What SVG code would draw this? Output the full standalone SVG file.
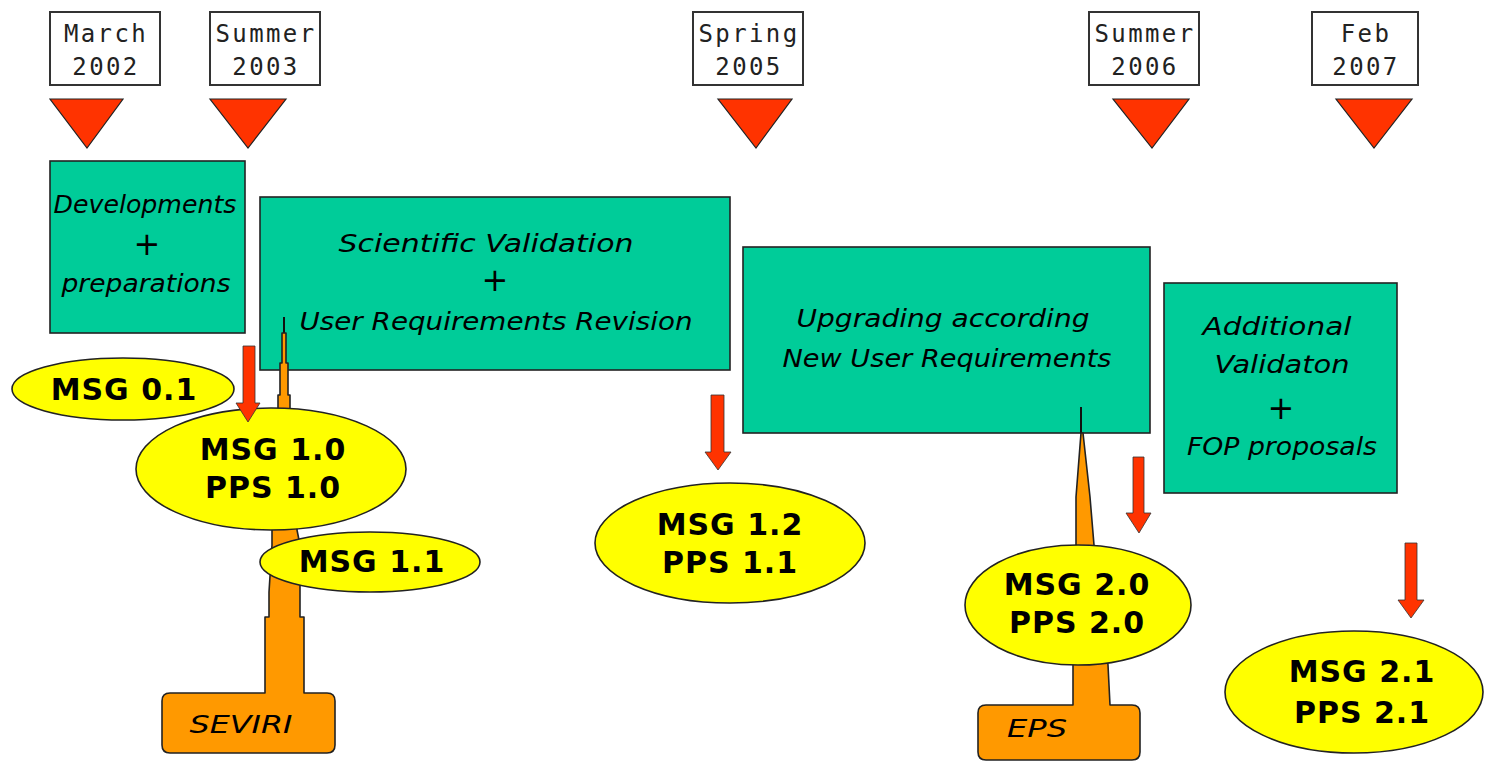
<svg xmlns="http://www.w3.org/2000/svg" width="1486" height="764" viewBox="0 0 1486 764">
<style>
  .date rect { fill: #ffffff; stroke: #333333; stroke-width: 2; }
  .date text { font-family: "DejaVu Sans Mono", "Liberation Mono", monospace; font-size: 24px; letter-spacing: 2.4px; fill: #222222; text-anchor: middle; }
  .tri { fill: #ff3300; stroke: #222222; stroke-width: 1.2; }
  .box rect { fill: #00cc99; stroke: #222222; stroke-width: 1.6; }
  .hand { font-family: "DejaVu Sans", "Noto Sans", sans-serif; font-style: italic; font-size: 24px; fill: #000000; text-anchor: middle; }
  .plus { font-family: "DejaVu Sans", sans-serif; font-size: 32px; fill: #000000; text-anchor: middle; }
  .ver ellipse { fill: #ffff00; stroke: #222222; stroke-width: 1.6; }
  .ver text { font-family: "DejaVu Sans", "Liberation Sans", sans-serif; font-weight: bold; font-size: 30px; letter-spacing: 1px; fill: #000000; text-anchor: middle; }
  .tower path { fill: #ff9900; stroke: #222222; stroke-width: 1.6; stroke-linejoin: round; }
  .tower line { stroke: #111111; stroke-width: 2; }
  .arrow { fill: #ff3300; stroke: #333333; stroke-width: 0.8; }
</style>

<!-- green phase boxes -->
<g id="box-developments" class="box">
  <rect x="50" y="161" width="195" height="172"/>
  <text class="hand" x="145" y="213" textLength="183" lengthAdjust="spacingAndGlyphs">Developments</text>
  <text class="plus" x="147" y="255">+</text>
  <text class="hand" x="146" y="292" textLength="169" lengthAdjust="spacingAndGlyphs">preparations</text>
</g>
<g id="box-scientific" class="box">
  <rect x="260" y="197" width="470" height="173"/>
  <text class="hand" x="486" y="252" textLength="295" lengthAdjust="spacingAndGlyphs">Scientific Validation</text>
  <text class="plus" x="495" y="291">+</text>
  <text class="hand" x="496" y="330" textLength="393" lengthAdjust="spacingAndGlyphs">User Requirements Revision</text>
</g>
<g id="box-upgrading" class="box">
  <rect x="743" y="247" width="407" height="186"/>
  <text class="hand" x="943" y="327" textLength="293" lengthAdjust="spacingAndGlyphs">Upgrading according</text>
  <text class="hand" x="947" y="367" textLength="329" lengthAdjust="spacingAndGlyphs">New User Requirements</text>
</g>
<g id="box-additional" class="box">
  <rect x="1164" y="283" width="233" height="210"/>
  <text class="hand" x="1277" y="335" textLength="149" lengthAdjust="spacingAndGlyphs">Additional</text>
  <text class="hand" x="1282" y="373" textLength="135" lengthAdjust="spacingAndGlyphs">Validaton</text>
  <text class="plus" x="1281" y="419">+</text>
  <text class="hand" x="1282" y="455" textLength="190" lengthAdjust="spacingAndGlyphs">FOP proposals</text>
</g>

<!-- instrument towers -->
<g id="tower-seviri" class="tower">
  <line x1="284" y1="317" x2="284" y2="334"/>
  <path d="M265,693 L170,693 Q162,693 162,701 L162,745 Q162,753 170,753 L327,753 Q335,753 335,745 L335,701 Q335,693 327,693 L304,693 L304,617 L300,617 L300,545 L297,530 L290,420 L290,395 L288,395 L288,363 L286,363 L286,333 L282,333 L282,363 L280,363 L280,395 L278,395 L278,420 L272,530 L272,545 L269,592 L269,617 L265,617 Z"/>
  <text class="hand" x="241" y="733" textLength="103" lengthAdjust="spacingAndGlyphs">SEVIRI</text>
</g>
<g id="tower-eps" class="tower">
  <line x1="1081" y1="407" x2="1081" y2="434"/>
  <path d="M1073,705 L986,705 Q978,705 978,713 L978,752 Q978,760 986,760 L1132,760 Q1140,760 1140,752 L1140,713 Q1140,705 1132,705 L1110,705 L1108,665 L1094,545 L1090,497 L1083,433 L1081,433 L1076,497 L1076,545 L1073,665 Z"/>
  <text class="hand" x="1037" y="737" textLength="60" lengthAdjust="spacingAndGlyphs">EPS</text>
</g>

<!-- version ellipses -->
<g id="v-msg01" class="ver">
  <ellipse cx="123" cy="389" rx="111" ry="31"/>
  <text x="124" y="400">MSG 0.1</text>
</g>
<g id="v-msg10" class="ver">
  <ellipse cx="271" cy="469" rx="135" ry="61"/>
  <text x="273" y="460">MSG 1.0</text>
  <text x="273" y="498">PPS 1.0</text>
</g>
<g id="v-msg11" class="ver">
  <ellipse cx="370" cy="562" rx="110" ry="30"/>
  <text x="372" y="572">MSG 1.1</text>
</g>
<g id="v-msg12" class="ver">
  <ellipse cx="730" cy="543" rx="135" ry="60"/>
  <text x="730" y="535">MSG 1.2</text>
  <text x="730" y="573">PPS 1.1</text>
</g>
<g id="v-msg20" class="ver">
  <ellipse cx="1078" cy="605" rx="113" ry="60"/>
  <text x="1077" y="595">MSG 2.0</text>
  <text x="1077" y="633">PPS 2.0</text>
</g>
<g id="v-msg21" class="ver">
  <ellipse cx="1354" cy="692" rx="129" ry="61"/>
  <text x="1362" y="682">MSG 2.1</text>
  <text x="1362" y="723">PPS 2.1</text>
</g>

<!-- connectors: release arrows -->
<g id="connectors">
  <polygon class="arrow" points="243,346 255,346 255,403 260,403 248,422 236,403 243,403"/>
  <polygon class="arrow" points="711,395 724,395 724,452 731,452 718,470 705,452 711,452"/>
  <polygon class="arrow" points="1133,457 1144,457 1144,513 1151,513 1139,533 1126,513 1133,513"/>
  <polygon class="arrow" points="1405,543 1417,543 1417,600 1424,600 1411,618 1398,600 1405,600"/>
</g>

<!-- timeline dates -->
<g id="date-2002" class="date">
  <rect x="50" y="12" width="110" height="73"/>
  <text x="106" y="42">March</text>
  <text x="106" y="75">2002</text>
  <polygon class="tri" points="50,99 123,99 87,148"/>
</g>
<g id="date-2003" class="date">
  <rect x="210" y="12" width="110" height="73"/>
  <text x="266" y="42">Summer</text>
  <text x="266" y="75">2003</text>
  <polygon class="tri" points="210,99 286,99 248,148"/>
</g>
<g id="date-2005" class="date">
  <rect x="693" y="12" width="110" height="73"/>
  <text x="749" y="42">Spring</text>
  <text x="749" y="75">2005</text>
  <polygon class="tri" points="718,99 792,99 756,148"/>
</g>
<g id="date-2006" class="date">
  <rect x="1089" y="12" width="110" height="73"/>
  <text x="1145" y="42">Summer</text>
  <text x="1145" y="75">2006</text>
  <polygon class="tri" points="1113,99 1189,99 1152,148"/>
</g>
<g id="date-2007" class="date">
  <rect x="1312" y="12" width="106" height="73"/>
  <text x="1366" y="42">Feb</text>
  <text x="1366" y="75">2007</text>
  <polygon class="tri" points="1336,99 1412,99 1374,148"/>
</g>
</svg>
